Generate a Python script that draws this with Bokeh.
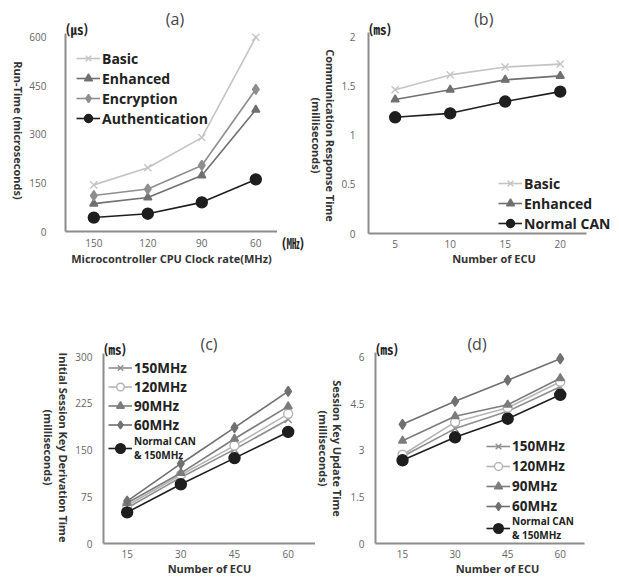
import math
from bokeh.plotting import figure
from bokeh.models import Range1d, FixedTicker, Label, Legend, LegendItem
from bokeh.layouts import row, column
from bokeh.embed import file_html
from bokeh.resources import INLINE

# ---------------- data ----------------
# (a) run-time vs microcontroller clock rate
clock_labels = ["150", "120", "90", "60"]
runtime_basic = [144, 197, 290, 600]
runtime_enhanced = [86, 105, 173, 376]
runtime_encryption = [111, 131, 204, 439]
runtime_authentication = [43, 55, 90, 161]
runtime_ticks = [0, 150, 300, 450, 600]

# (b) communication response time vs number of ECU
ecu_b = [5, 10, 15, 20]
resp_basic = [1.46, 1.61, 1.69, 1.72]
resp_enhanced = [1.36, 1.46, 1.56, 1.60]
resp_normal = [1.18, 1.22, 1.34, 1.44]
resp_ticks = [0, 0.5, 1, 1.5, 2]
resp_tick_labels = ["0", "0.5", "1", "1.5", "2"]

# (c) initial session key derivation time
ecu_cd = [15, 30, 45, 60]
deriv_150 = [57, 106, 151, 199]
deriv_120 = [61, 110, 157, 208]
deriv_90 = [65, 113, 168, 220]
deriv_60 = [68, 128, 186, 244]
deriv_normal = [50, 95, 137, 179]
deriv_ticks = [0, 75, 150, 225, 300]

# (d) session key update time
update_150 = [2.80, 3.70, 4.26, 5.05]
update_120 = [2.86, 3.91, 4.37, 5.21]
update_90 = [3.31, 4.10, 4.47, 5.32]
update_60 = [3.84, 4.58, 5.26, 5.95]
update_normal = [2.68, 3.42, 4.02, 4.79]
update_ticks = [0, 1.5, 3, 4.5, 6]
update_tick_labels = ["0", "1.5", "3", "4.5", "6"]

FONT = "Open Sans"
CJK = "Noto Sans CJK KR"
TOP_H = 270
BOT_H = 310


def base_style(p):
    p.outline_line_color = None
    p.background_fill_color = "white"
    p.border_fill_color = "white"
    p.xgrid.visible = False
    p.ygrid.visible = False


def build(fig_pos, size, frame, xcal, ycal):
    """fig_pos/frame are page pixels; frame = (left, top, right, bottom)."""
    fx, fy = fig_pos
    w, h = size
    L, T, R, B = frame
    (xv0, xp0), (xv1, xp1) = xcal
    (yv0, yp0), (yv1, yp1) = ycal
    kx = (xp1 - xp0) / (xv1 - xv0)
    ky = (yp0 - yp1) / (yv1 - yv0)
    xs = lambda px: xv0 + (px - xp0) / kx
    ys = lambda py: yv0 + (yp0 - py) / ky
    p = figure(width=w, height=h, title=None,
               x_range=Range1d(xs(L), xs(R)), y_range=Range1d(ys(B), ys(T)),
               min_border_left=int(round(L - fx)), min_border_right=int(round(fx + w - R)),
               min_border_top=int(round(T - fy)), min_border_bottom=int(round(fy + h - B)),
               frame_align=False, output_backend="svg", toolbar_location=None)
    base_style(p)
    for ax in (p.xaxis, p.yaxis):
        ax.axis_line_color = "#8c8c8c"
        ax.axis_line_width = 2
        ax.major_tick_line_color = None
        ax.minor_tick_line_color = None
        ax.major_label_text_font = FONT
        ax.major_label_text_font_size = "10px"
        ax.major_label_text_color = "#666666"
        ax.axis_label_text_font = FONT
        ax.axis_label_text_font_size = "11px"
        ax.axis_label_text_font_style = "bold"
        ax.axis_label_text_color = "#333333"
    return p, xs, ys


def strip(fig_pos, size):
    fx, fy = fig_pos
    w, h = size
    p = figure(width=w, height=h, title=None, x_range=Range1d(0, w), y_range=Range1d(0, h),
               min_border=0, x_axis_type=None, y_axis_type=None, frame_align=False,
               output_backend="svg", toolbar_location=None)
    base_style(p)
    xs = lambda px: px - fx
    ys = lambda py: h - (py - fy)
    return p, xs, ys


def series(p, x, y, color, marker, size, fill=None):
    l = p.line(x, y, line_color=color, line_width=1.6)
    s = p.scatter(x, y, marker=marker, size=size, line_color=color,
                  fill_color=(fill if fill is not None else color), line_width=1.4)
    return [l, s]


def add_legend(p, entries, loc, font_size, row_h, glyph_w=24):
    items = [LegendItem(label=lab, renderers=rs) for lab, rs in entries]
    leg = Legend(items=items, location=loc, padding=0, margin=0, spacing=0,
                 label_height=row_h, glyph_height=row_h, glyph_width=glyph_w,
                 label_standoff=2, border_line_color=None, background_fill_alpha=0,
                 label_text_font=FONT, label_text_font_size=font_size,
                 label_text_font_style="bold", label_text_color="#222222",
                 label_text_baseline="middle")
    p.add_layout(leg)


def text(p, xs, ys, px, py, s, size, font=FONT, style="normal", align="center",
         color="#333333", angle=0.0):
    p.add_layout(Label(x=xs(px), y=ys(py), text=s, text_align=align, text_baseline="middle",
                       text_font=font, text_font_size=size, text_font_style=style,
                       text_color=color, angle=angle))


C_LIGHT = "#c4c4c4"
C_MID = "#8e8e8e"
C_DARK = "#707070"
C_BLACK = "#1e1e1e"
DOWN = -math.pi / 2

# ================= top row =================
sa, sxa, sya = strip((0, 0), (26, TOP_H))
text(sa, sxa, sya, 18, 130, "Run-Time (microseconds)", "11px", style="bold", angle=DOWN)

# (a)
pa, xa, ya = build((26, 0), (251, TOP_H), (62, 0, 277, 231), ((0, 90.7), (3, 255)), ((0, 231), (600, 36.7)))
xpos = list(range(len(clock_labels)))
ra1 = series(pa, xpos, runtime_basic, C_LIGHT, "x", 10)
ra2 = series(pa, xpos, runtime_enhanced, C_DARK, "triangle", 8)
ra3 = series(pa, xpos, runtime_encryption, C_MID, "diamond", 10)
ra4 = series(pa, xpos, runtime_authentication, C_BLACK, "circle", 11)
pa.xaxis.ticker = FixedTicker(ticks=xpos)
pa.xaxis.major_label_overrides = {i: lab for i, lab in zip(xpos, clock_labels)}
pa.yaxis.ticker = FixedTicker(ticks=runtime_ticks)
pa.yaxis.bounds = (0, ya(33))
pa.xaxis.axis_label = "Microcontroller CPU Clock rate(MHz)"
pa.xaxis.major_label_standoff = 1
pa.xaxis.axis_label_standoff = 1
pa.yaxis.major_label_standoff = 13
add_legend(pa, [("Basic", ra1), ("Enhanced", ra2), ("Encryption", ra3), ("Authentication", ra4)],
           (11, 103), "14px", 20)
text(pa, xa, ya, 173, 18, "(a)", "16px", color="#444444")
text(pa, xa, ya, 62, 28, "(㎲)", "13px", font=CJK, style="bold", align="left", color="#222222")

sr, sxr, syr = strip((277, 0), (31, TOP_H))
text(sr, sxr, syr, 281, 242, "(㎒)", "13px", font=CJK, style="bold", align="left", color="#222222")

sb, sxb, syb = strip((308, 0), (30, TOP_H))
text(sb, sxb, syb, 330, 135, "Communication Response Time", "11px", style="bold", angle=DOWN)
text(sb, sxb, syb, 316, 135, "(milliseconds)", "11px", style="bold", angle=DOWN)

# (b)
pb, xb, yb = build((338, 0), (281, TOP_H), (362, 0, 619, 233), ((5, 389.3), (20, 558.3)), ((0, 233), (2, 36)))
rb1 = series(pb, ecu_b, resp_basic, C_LIGHT, "x", 10)
rb2 = series(pb, ecu_b, resp_enhanced, C_DARK, "triangle", 8)
rb3 = series(pb, ecu_b, resp_normal, C_BLACK, "circle", 11)
pb.xaxis.ticker = FixedTicker(ticks=ecu_b)
pb.yaxis.ticker = FixedTicker(ticks=resp_ticks)
pb.yaxis.major_label_overrides = {t: lab for t, lab in zip(resp_ticks, resp_tick_labels)}
pb.xaxis.bounds = (xb(362), xb(585))
pb.yaxis.bounds = (0, yb(32))
pb.xaxis.axis_label = "Number of ECU"
pb.xaxis.major_label_standoff = 0
pb.xaxis.axis_label_standoff = 0
pb.yaxis.major_label_standoff = 7
add_legend(pb, [("Basic", rb1), ("Enhanced", rb2), ("Normal CAN", rb3)], (130, 0), "14px", 20)
text(pb, xb, yb, 480, 18, "(b)", "16px", color="#444444")
text(pb, xb, yb, 362, 28, "(㎳)", "13px", font=CJK, style="bold", align="left", color="#222222")

# ================= bottom row =================
sc, sxc, syc = strip((0, TOP_H), (72, BOT_H))
text(sc, sxc, syc, 63, 447, "Initial Session Key Derivation Time", "11px", style="bold", angle=DOWN)
text(sc, sxc, syc, 48, 447, "(milliseconds)", "11px", style="bold", angle=DOWN)

# (c)
pc, xc, yc = build((72, TOP_H), (243, BOT_H), (100, TOP_H, 315, 543), ((15, 124), (60, 287.3)), ((0, 543), (300, 356)))
rc1 = series(pc, ecu_cd, deriv_150, C_MID, "x", 10)
rc2 = series(pc, ecu_cd, deriv_120, "#b4b4b4", "circle", 9, fill="white")
rc3 = series(pc, ecu_cd, deriv_90, "#7c7c7c", "triangle", 8)
rc4 = series(pc, ecu_cd, deriv_60, C_DARK, "diamond", 10)
rc5 = series(pc, ecu_cd, deriv_normal, C_BLACK, "circle", 11)
pc.xaxis.ticker = FixedTicker(ticks=ecu_cd)
pc.yaxis.ticker = FixedTicker(ticks=deriv_ticks)
pc.yaxis.bounds = (0, yc(353))
pc.xaxis.axis_label = "Number of ECU"
pc.xaxis.major_label_standoff = 0
pc.xaxis.axis_label_standoff = 0
pc.yaxis.major_label_standoff = 5
add_legend(pc, [("150MHz", rc1), ("120MHz", rc2), ("90MHz", rc3), ("60MHz", rc4)], (5, 109), "13.5px", 19)
add_legend(pc, [("Normal CAN\n& 150MHz", rc5)], (5, 81), "10px", 28)
text(pc, xc, yc, 207, 343, "(c)", "16px", color="#444444")
text(pc, xc, yc, 100, 348, "(㎳)", "13px", font=CJK, style="bold", align="left", color="#222222")

sd, sxd, syd = strip((315, TOP_H), (32, BOT_H))
text(sd, sxd, syd, 337, 448, "Session Key Update Time", "11px", style="bold", angle=DOWN)
text(sd, sxd, syd, 323, 448, "(milliseconds)", "11px", style="bold", angle=DOWN)

# (d)
pd, xd, yd = build((347, TOP_H), (272, BOT_H), (369, TOP_H, 619, 543), ((15, 396.7), (60, 558.3)), ((0, 543), (6, 356.7)))
rd1 = series(pd, ecu_cd, update_150, C_MID, "x", 10)
rd2 = series(pd, ecu_cd, update_120, "#b4b4b4", "circle", 9, fill="white")
rd3 = series(pd, ecu_cd, update_90, "#7c7c7c", "triangle", 8)
rd4 = series(pd, ecu_cd, update_60, C_DARK, "diamond", 10)
rd5 = series(pd, ecu_cd, update_normal, C_BLACK, "circle", 11)
pd.xaxis.ticker = FixedTicker(ticks=ecu_cd)
pd.yaxis.ticker = FixedTicker(ticks=update_ticks)
pd.yaxis.major_label_overrides = {t: lab for t, lab in zip(update_ticks, update_tick_labels)}
pd.xaxis.bounds = (xd(369), xd(583))
pd.yaxis.bounds = (0, yd(352))
pd.xaxis.axis_label = "Number of ECU"
pd.xaxis.major_label_standoff = 0
pd.xaxis.axis_label_standoff = 0
pd.yaxis.major_label_standoff = 5
add_legend(pd, [("150MHz", rd1), ("120MHz", rd2), ("90MHz", rd3), ("60MHz", rd4)], (111, 27), "13.5px", 20)
add_legend(pd, [("Normal CAN\n& 150MHz", rd5)], (111, 1), "10px", 28)
text(pd, xd, yd, 473, 343, "(d)", "16px", color="#444444")
text(pd, xd, yd, 369, 348, "(㎳)", "13px", font=CJK, style="bold", align="left", color="#222222")

layout = column(row(sa, pa, sr, sb, pb), row(sc, pc, sd, pd))
open("out.html", "w").write(file_html(layout, INLINE))
